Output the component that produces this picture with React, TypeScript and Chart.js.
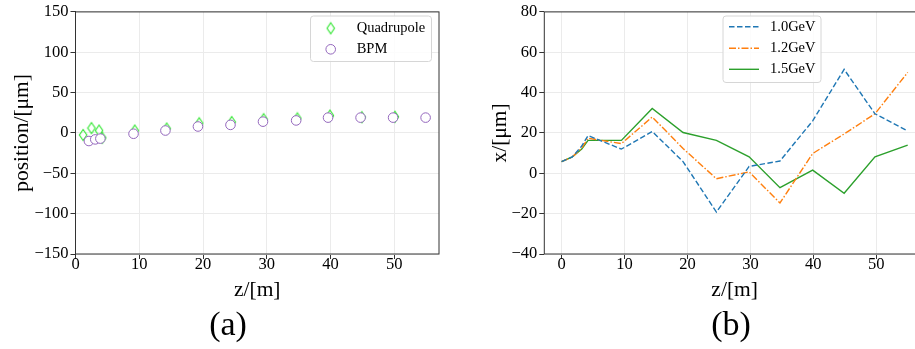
import React, { useEffect, useRef } from "react";
import { Chart, registerables } from "chart.js";

Chart.register(...registerables);

// ---------- data (a) ----------
const quadZ = [1.2, 2.5, 3.7, 4.2, 9.3, 14.3, 19.4, 24.5, 29.5, 34.8, 39.9, 44.9, 50.1];
const quadY = [-2.5, 6, 3, -6, 3, 5.5, 12, 13.5, 17, 18, 21.5, 19.5, 20];
const bpmZ = [2.1, 3.1, 3.9, 9.1, 14.1, 19.2, 24.3, 29.4, 34.6, 39.6, 44.7, 49.8, 54.9];
const bpmY = [-10, -8, -7, -1, 3, 8, 10, 14, 15.5, 19, 19, 19, 19];

// ---------- data (b) ----------
const lineZ = [0, 1.7, 3.2, 4.2, 9.5, 14.4, 19.3, 24.6, 29.8, 34.7, 39.9, 44.9, 49.8, 55];
const x10GeV = [5.8, 8.1, 13.5, 18.7, 12.0, 20.7, 5.8, -19.2, 3.4, 6.1, 26.0, 51.5, 29.5, 21];
const x12GeV = [5.8, 8.1, 12.5, 17.4, 14.7, 27.9, 12.3, -2.7, 0.7, -14.7, 9.8, 19.5, 29.5, 50];
const x15GeV = [5.8, 8.1, 12, 16.3, 16.3, 32.1, 20.2, 16.3, 8.2, -7.1, 1.6, -9.9, 8.2, 14];

const labelsA = ["Quadrupole", "BPM"];
const labelsB = ["1.0GeV", "1.2GeV", "1.5GeV"];

const SERIF = '"Liberation Serif", "Times New Roman", serif';
const GREEN_Q = "#2ee62e";
const PURPLE = "#9467bd";
const BLUE = "#1f77b4";
const ORANGE = "#ff7f0e";
const GREEN = "#2ca02c";
const DASH_B = [5.5, 2.5];
const DASH_O = [7, 2, 1.5, 2];

function fmt(v: number | string) {
  return String(v).replace("-", "\u2212");
}

function makeDiamond(color: string) {
  const c = document.createElement("canvas");
  c.width = 10;
  c.height = 14;
  const ctx = c.getContext("2d")!;
  ctx.strokeStyle = color;
  ctx.lineWidth = 1.1;
  ctx.beginPath();
  ctx.moveTo(5, 1.5);
  ctx.lineTo(8.7, 7);
  ctx.lineTo(5, 12.5);
  ctx.lineTo(1.3, 7);
  ctx.closePath();
  ctx.stroke();
  return c;
}

const framePlugin = {
  id: "frame",
  afterDatasetsDraw(chart: any) {
    const { ctx, chartArea: a } = chart;
    ctx.save();
    ctx.strokeStyle = "#333";
    ctx.lineWidth = 1;
    ctx.strokeRect(a.left, a.top, a.right - a.left, a.bottom - a.top);
    ctx.restore();
  },
};

function legendBox(ctx: CanvasRenderingContext2D, x: number, y: number, w: number, h: number) {
  ctx.save();
  ctx.beginPath();
  (ctx as any).roundRect(x, y, w, h, 3);
  ctx.fillStyle = "rgba(255,255,255,0.85)";
  ctx.fill();
  ctx.strokeStyle = "#d6d6d6";
  ctx.lineWidth = 1;
  ctx.stroke();
  ctx.restore();
}

function axisCommon(min: number, max: number, step: number) {
  return {
    type: "linear" as const,
    min,
    max,
    border: { display: false },
    grid: { color: "#ebebeb", lineWidth: 1, tickColor: "#333", tickLength: 5 },
    ticks: {
      stepSize: step,
      includeBounds: false,
      color: "#000",
      font: { family: SERIF, size: 16.5 },
      callback: (v: any) => fmt(v),
    },
  };
}

export default function App() {
  const refA = useRef<HTMLCanvasElement>(null);
  const refB = useRef<HTMLCanvasElement>(null);

  useEffect(() => {
    Chart.defaults.font.family = SERIF;
    const diamond = makeDiamond(GREEN_Q);

    const legendA = {
      id: "legendA",
      afterDraw(chart: any) {
        const ctx = chart.ctx as CanvasRenderingContext2D;
        legendBox(ctx, 310.5, 16, 121, 45.5);
        ctx.save();
        ctx.drawImage(diamond, 330.7 - 5, 28.3 - 7);
        ctx.beginPath();
        ctx.arc(330.7, 49.3, 4.8, 0, Math.PI * 2);
        ctx.strokeStyle = PURPLE;
        ctx.lineWidth = 1;
        ctx.stroke();
        ctx.fillStyle = "#000";
        ctx.font = `14.5px ${SERIF}`;
        ctx.textBaseline = "middle";
        ctx.textAlign = "left";
        ctx.fillText(labelsA[0], 356.7, 28.3);
        ctx.fillText(labelsA[1], 356.7, 49.3);
        ctx.restore();
      },
    };

    const xA: any = axisCommon(0, 57, 10);
    xA.ticks.padding = -4;
    xA.title = {
      display: true,
      text: "z/[m]",
      color: "#000",
      font: { family: SERIF, size: 21.5 },
      padding: { top: 0, bottom: 46 },
    };
    xA.afterFit = (s: any) => {
      s.height = 95;
    };
    const yA: any = axisCommon(-150, 150, 50);
    yA.ticks.padding = 2;
    yA.title = {
      display: true,
      text: "position/[μm]",
      color: "#000",
      font: { family: SERIF, size: 21.5 },
      padding: { top: 9.6, bottom: 0 },
    };
    yA.afterFit = (s: any) => {
      s.width = 75.5;
    };

    const chartA = new Chart(refA.current!, {
      type: "scatter",
      data: {
        datasets: [
          {
            label: labelsA[1],
            data: bpmZ.map((z, i) => ({ x: z, y: bpmY[i] })),
            pointStyle: "circle",
            pointRadius: 4.8,
            borderColor: PURPLE,
            backgroundColor: "#fff",
            borderWidth: 1,
            order: 0,
          },
          {
            label: labelsA[0],
            data: quadZ.map((z, i) => ({ x: z, y: quadY[i] })),
            pointStyle: diamond as any,
            pointRadius: 6,
            borderColor: GREEN_Q,
            backgroundColor: "rgba(0,0,0,0)",
            order: 1,
          },
        ],
      },
      options: {
        animation: false,
        responsive: false,
        maintainAspectRatio: false,
        devicePixelRatio: 1,
        layout: { padding: { left: 0, top: 8, right: 18, bottom: 0 } },
        plugins: { legend: { display: false }, tooltip: { enabled: false } },
        scales: { x: xA, y: yA },
      },
      plugins: [framePlugin, legendA],
    });

    const legendB = {
      id: "legendB",
      afterDraw(chart: any) {
        const ctx = chart.ctx as CanvasRenderingContext2D;
        legendBox(ctx, 266, 16, 98, 66.5);
        const rows = [
          { y: 26.7, c: BLUE, d: DASH_B },
          { y: 48.3, c: ORANGE, d: DASH_O },
          { y: 69.3, c: GREEN, d: [] as number[] },
        ];
        ctx.save();
        rows.forEach((r, i) => {
          ctx.beginPath();
          ctx.setLineDash(r.d);
          ctx.strokeStyle = r.c;
          ctx.lineWidth = 1.4;
          ctx.moveTo(272, r.y);
          ctx.lineTo(302, r.y);
          ctx.stroke();
          ctx.setLineDash([]);
          ctx.fillStyle = "#000";
          ctx.font = `14.5px ${SERIF}`;
          ctx.textBaseline = "middle";
          ctx.textAlign = "left";
          ctx.fillText(labelsB[i], 313, r.y);
        });
        ctx.restore();
      },
    };

    const xB: any = axisCommon(-2.75, 57.75, 10);
    xB.ticks.padding = -4;
    xB.title = {
      display: true,
      text: "z/[m]",
      color: "#000",
      font: { family: SERIF, size: 21.5 },
      padding: { top: 0, bottom: 46 },
    };
    xB.afterFit = (s: any) => {
      s.height = 95;
    };
    const yB: any = axisCommon(-40, 80, 20);
    yB.ticks.padding = 2;
    yB.title = {
      display: true,
      text: "x/[μm]",
      color: "#000",
      font: { family: SERIF, size: 21.5 },
      padding: { top: 30, bottom: 0 },
    };
    yB.afterFit = (s: any) => {
      s.width = 87.3;
    };

    const mk = (label: string, vals: number[], color: string, dash: number[]) => ({
      label,
      data: lineZ.map((z, i) => ({ x: z, y: vals[i] })),
      borderColor: color,
      backgroundColor: color,
      borderWidth: 1.4,
      borderDash: dash,
      pointRadius: 0,
      tension: 0,
      fill: false,
    });

    const chartB = new Chart(refB.current!, {
      type: "line",
      data: {
        datasets: [
          mk(labelsB[0], x10GeV, BLUE, DASH_B),
          mk(labelsB[1], x12GeV, ORANGE, DASH_O),
          mk(labelsB[2], x15GeV, GREEN, []),
        ],
      },
      options: {
        animation: false,
        responsive: false,
        maintainAspectRatio: false,
        devicePixelRatio: 1,
        layout: { padding: { left: 0, top: 8, right: 12, bottom: 0 } },
        plugins: { legend: { display: false }, tooltip: { enabled: false } },
        scales: { x: xB, y: yB },
      },
      plugins: [framePlugin, legendB],
    });

    return () => {
      chartA.destroy();
      chartB.destroy();
    };
  }, []);

  const lab: React.CSSProperties = {
    position: "absolute",
    top: 307,
    width: 100,
    textAlign: "center",
    fontFamily: SERIF,
    fontSize: 34,
    lineHeight: "34px",
    color: "#000",
  };

  return (
    <div
      style={{
        position: "fixed",
        left: 0,
        top: 0,
        width: 915,
        height: 349,
        overflow: "hidden",
        background: "#fff",
      }}
    >
      <canvas
        ref={refA}
        width={457}
        height={349}
        style={{ position: "absolute", left: 0, top: 0, width: 457, height: 349 }}
      />
      <canvas
        ref={refB}
        width={480}
        height={349}
        style={{ position: "absolute", left: 457, top: 0, width: 480, height: 349 }}
      />
      <div style={{ ...lab, left: 178 }}>(a)</div>
      <div style={{ ...lab, left: 681 }}>(b)</div>
    </div>
  );
}
